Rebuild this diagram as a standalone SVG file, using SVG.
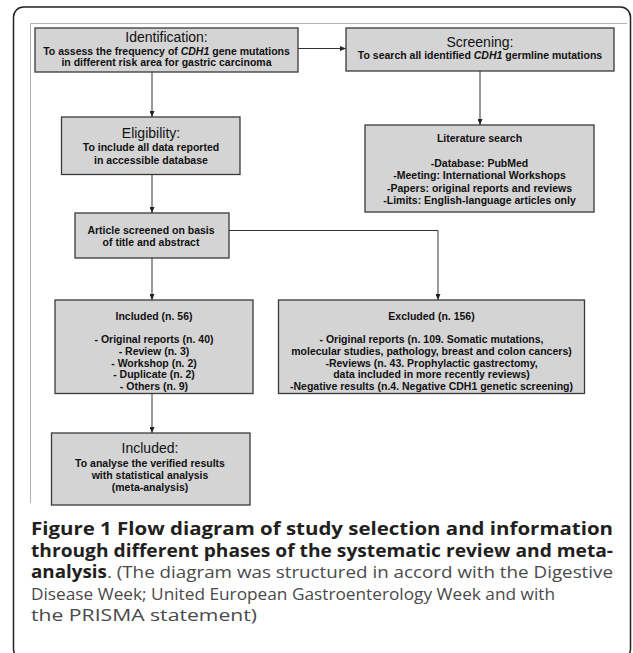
<svg xmlns="http://www.w3.org/2000/svg" width="633" height="653" viewBox="0 0 633 653">
<defs>
<marker id="ah" viewBox="0 0 6 5" refX="6" refY="2.5" markerWidth="6" markerHeight="5" markerUnits="userSpaceOnUse" orient="auto"><path d="M0,0 L6,2.5 L0,5 z" fill="#222"/></marker>
</defs>
<style>
.box{fill:#d4d4d4;stroke:#3a3a3a;stroke-width:1.3}
.t{font-family:"Liberation Sans",Arial,sans-serif;font-size:14px;fill:#111;text-anchor:middle}
.b{font-family:"Liberation Sans",Arial,sans-serif;font-size:10.5px;font-weight:bold;fill:#111;text-anchor:middle}
.c{stroke:#333;stroke-width:1;fill:none}
.cap{font-family:"Open Sans","Noto Sans",sans-serif;font-size:17px;fill:#4a4a4a}
.capb{font-weight:bold;fill:#231f20}
</style>
<rect x="13.5" y="7" width="617" height="652" rx="10" fill="none" stroke="#222" stroke-width="1.5"/>
<path d="M30.5,503 V23.5 H627" stroke="#b0b0b0" stroke-width="1" fill="none"/>

<g id="connectors">
<line class="c" x1="298" y1="48.5" x2="346" y2="48.5" marker-end="url(#ah)"/>
<line class="c" x1="152" y1="72" x2="152" y2="117" marker-end="url(#ah)"/>
<line class="c" x1="480" y1="71" x2="480" y2="125" marker-end="url(#ah)"/>
<line class="c" x1="152" y1="174.5" x2="152" y2="213" marker-end="url(#ah)"/>
<polyline class="c" points="229,230.5 438,230.5 438,300" marker-end="url(#ah)"/>
<line class="c" x1="152" y1="258" x2="152" y2="300" marker-end="url(#ah)"/>
<line class="c" x1="152" y1="393.5" x2="152" y2="433" marker-end="url(#ah)"/>
</g>

<g id="identification">
<rect class="box" x="35" y="28" width="263" height="44"/>
<text class="t" x="166.5" y="41.5">Identification:</text>
<text class="b" x="166.5" y="54.5">To assess the frequency of <tspan font-style="italic">CDH1</tspan> gene mutations</text>
<text class="b" x="166.5" y="66">in different risk area for gastric carcinoma</text>
</g>

<g id="screening">
<rect class="box" x="346" y="28" width="268" height="43"/>
<text class="t" x="480" y="46.5">Screening:</text>
<text class="b" x="480" y="59">To search all identified <tspan font-style="italic">CDH1</tspan> germline mutations</text>
</g>

<g id="eligibility">
<rect class="box" x="61.5" y="117" width="178.5" height="57.5"/>
<text class="t" x="151" y="138">Eligibility:</text>
<text class="b" x="151" y="151">To include all data reported</text>
<text class="b" x="151" y="163.5">in accessible database</text>
</g>

<g id="literature">
<rect class="box" x="365" y="125" width="229" height="87"/>
<text class="b" x="479.5" y="142">Literature search</text>
<text class="b" x="479.5" y="166.5">-Database: PubMed</text>
<text class="b" x="479.5" y="179">-Meeting: International Workshops</text>
<text class="b" x="479.5" y="191.5">-Papers: original reports and reviews</text>
<text class="b" x="479.5" y="204">-Limits: English-language articles only</text>
</g>

<g id="screened">
<rect class="box" x="75" y="213" width="154" height="45"/>
<text class="b" x="151" y="233.5">Article screened on basis</text>
<text class="b" x="151" y="246">of title and abstract</text>
</g>

<g id="included">
<rect class="box" x="55" y="300" width="198" height="93.5"/>
<text class="b" x="154" y="320">Included (n. 56)</text>
<text class="b" x="154" y="343.3">- Original reports (n. 40)</text>
<text class="b" x="154" y="355">- Review (n. 3)</text>
<text class="b" x="154" y="366.7">- Workshop (n. 2)</text>
<text class="b" x="154" y="378.3">- Duplicate (n. 2)</text>
<text class="b" x="154" y="390">- Others (n. 9)</text>
</g>

<g id="excluded">
<rect class="box" x="278.5" y="300" width="306" height="93.5"/>
<text class="b" x="431.5" y="320">Excluded (n. 156)</text>
<text class="b" x="431.5" y="343.3">- Original reports (n. 109. Somatic mutations,</text>
<text class="b" x="431.5" y="355">molecular studies, pathology, breast and colon cancers)</text>
<text class="b" x="431.5" y="366.7">-Reviews (n. 43. Prophylactic gastrectomy,</text>
<text class="b" x="431.5" y="378.3">data included in more recently reviews)</text>
<text class="b" x="431.5" y="390">-Negative results (n.4. Negative CDH1 genetic screening)</text>
</g>

<g id="final">
<rect class="box" x="51.5" y="433" width="198.5" height="72"/>
<text class="t" x="150" y="452.5">Included:</text>
<text class="b" x="150" y="466.5">To analyse the verified results</text>
<text class="b" x="150" y="478.5">with statistical analysis</text>
<text class="b" x="150" y="490.5">(meta-analysis)</text>
</g>

<g id="caption">
<text class="cap capb" x="31" y="535" textLength="582" lengthAdjust="spacingAndGlyphs">Figure 1 Flow diagram of study selection and information</text>
<text class="cap capb" x="31" y="556.5" textLength="582" lengthAdjust="spacingAndGlyphs">through different phases of the systematic review and meta-</text>
<text class="cap" x="31" y="578" textLength="582" lengthAdjust="spacingAndGlyphs"><tspan class="capb">analysis</tspan>. (The diagram was structured in accord with the Digestive</text>
<text class="cap" x="31" y="599.5" textLength="524" lengthAdjust="spacingAndGlyphs">Disease Week; United European Gastroenterology Week and with</text>
<text class="cap" x="31" y="621" textLength="226" lengthAdjust="spacingAndGlyphs">the PRISMA statement)</text>
</g>
</svg>
